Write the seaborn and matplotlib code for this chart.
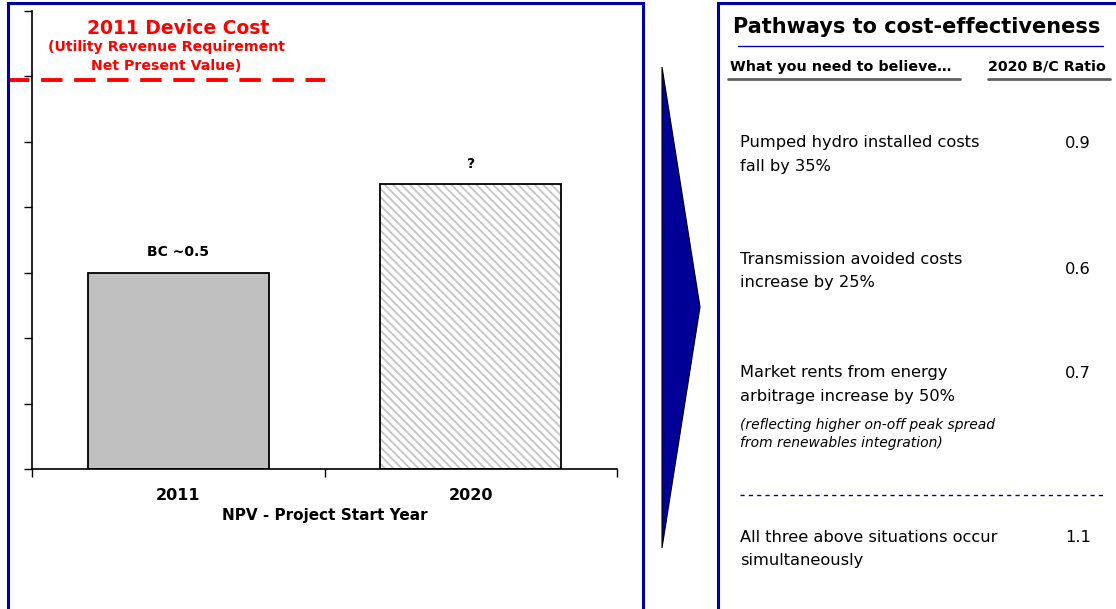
import matplotlib
matplotlib.use("Agg")
import matplotlib.pyplot as plt
from matplotlib.patches import Rectangle, Polygon
from matplotlib.lines import Line2D
import seaborn as sns

# ---------------- data ----------------
categories = ["2011", "2020"]
values = [3.0, 4.35]
bar_labels = ["BC ~0.5", "?"]
device_cost = 5.95
y_ticks = [0, 1, 2, 3, 4, 5, 6, 7]
xlabel = "NPV - Project Start Year"
cost_label = ["2011 Device Cost", "(Utility Revenue Requirement", "Net Present Value)"]

panel_title = "Pathways to cost-effectiveness"
col_headers = ["What you need to believe…", "2020 B/C Ratio"]
pathways = [
    "Pumped hydro installed costs\nfall by 35%",
    "Transmission avoided costs\nincrease by 25%",
    "Market rents from energy\narbitrage increase by 50%",
    "All three above situations occur\nsimultaneously",
]
ratios = ["0.9", "0.6", "0.7", "1.1"]
pathway_note = "(reflecting higher on-off peak spread\nfrom renewables integration)"

# ---------------- style ----------------
sns.set_theme(style="white")
plt.rcParams["font.family"] = ["DejaVu Sans"]
plt.rcParams["hatch.linewidth"] = 1.3
plt.rcParams["text.color"] = "black"
plt.rcParams["xtick.color"] = "black"
plt.rcParams["ytick.color"] = "black"
plt.rcParams["axes.labelcolor"] = "black"

W, H = 1116, 609
fig = plt.figure(figsize=(W / 100, H / 100), dpi=100)

def fx(px):
    return px / W

def fy(py):
    return 1 - py / H

BLUE = "#0000A8"

ax = fig.add_axes([fx(32), fy(469), fx(617) - fx(32), fy(11) - fy(469)])
sns.barplot(x=categories, y=values, ax=ax, width=0.62,
            palette=["#C0C0C0", "white"], hue=categories, legend=False,
            edgecolor="black", linewidth=1.3, saturation=1)

hp = ax.patches[1]
hp.set_facecolor("white")
hp.set_edgecolor("#C4C4C4")
hp.set_hatch("\\\\\\\\")
hp.set_linewidth(0)
ax.add_patch(Rectangle((hp.get_x(), hp.get_y()), hp.get_width(), hp.get_height(),
                       fill=False, edgecolor="black", linewidth=1.3, zorder=3))

ax.set_xlim(-0.5, 1.5)
ax.set_ylim(0, 7)
ax.set_yticks(y_ticks)
ax.set_yticklabels([])
ax.set_xticks([0, 1])
ax.set_xticklabels(categories, fontsize=11.5, fontweight="bold", color="black")
ax.set_xticks([-0.5, 0.5, 1.5], minor=True)
ax.tick_params(axis="x", which="major", length=0, pad=14)
ax.tick_params(axis="x", which="minor", length=6, width=1, direction="out", color="black", bottom=True)
ax.tick_params(axis="y", length=6, width=1, direction="out", color="black", left=True)
ax.set_xlabel(xlabel, fontsize=11, fontweight="bold", labelpad=3, color="black")
ax.set_ylabel("")
for s in ["top", "right"]:
    ax.spines[s].set_visible(False)
for s in ["left", "bottom"]:
    ax.spines[s].set_color("black")
    ax.spines[s].set_linewidth(1.2)

for i, (v, lab) in enumerate(zip(values, bar_labels)):
    ax.text(i, v + 0.21, lab, ha="center", va="bottom", fontsize=10, fontweight="bold", color="black")

# device cost dashed line
ax.plot([-0.582, 0.5], [device_cost, device_cost], color="#FF0000", lw=2.8,
        ls=(0, (5.5, 3)), clip_on=False, solid_capstyle="butt", dash_capstyle="butt")
fig.text(fx(178), fy(28), cost_label[0], ha="center", va="center", color="#FF0000",
         fontsize=13.5, fontweight="bold")
fig.text(fx(166), fy(47), cost_label[1], ha="center", va="center", color="#FF0000",
         fontsize=10.2, fontweight="bold")
fig.text(fx(166), fy(66), cost_label[2], ha="center", va="center", color="#FF0000",
         fontsize=10.2, fontweight="bold")

# panels
fig.add_artist(Rectangle((fx(8), fy(640)), fx(643) - fx(8), fy(3) - fy(640),
                         transform=fig.transFigure, fill=False, edgecolor=BLUE, lw=2.2))
fig.add_artist(Rectangle((fx(718), fy(640)), fx(1130) - fx(718), fy(3) - fy(640),
                         transform=fig.transFigure, fill=False, edgecolor=BLUE, lw=2.2))

# arrow
fig.add_artist(Polygon([(fx(662), fy(67)), (fx(700), fy(307)), (fx(662), fy(548))],
                       closed=True, transform=fig.transFigure, facecolor="#000096",
                       edgecolor="black", lw=0.8))

# right panel text
fig.text(fx(733), fy(27), panel_title, ha="left", va="center", fontsize=15,
         fontweight="bold", color="black")
fig.add_artist(Line2D([fx(738), fx(1103)], [fy(46), fy(46)], transform=fig.transFigure,
                      color=BLUE, lw=1))
fig.text(fx(730), fy(67), col_headers[0], ha="left", va="center", fontsize=10.3,
         fontweight="bold", color="black")
fig.text(fx(988), fy(67), col_headers[1], ha="left", va="center", fontsize=10.3,
         fontweight="bold", color="black")
fig.add_artist(Line2D([fx(728), fx(960)], [fy(79), fy(79)], transform=fig.transFigure,
                      color="#606060", lw=2))
fig.add_artist(Line2D([fx(988), fx(1110)], [fy(79), fy(79)], transform=fig.transFigure,
                      color="#606060", lw=2))

item_y = [143, 260, 373, 537]
ratio_y = [143, 270, 373, 537]
for txt, r, iy, ry in zip(pathways, ratios, item_y, ratio_y):
    fig.text(fx(740), fy(iy), txt.split("\n")[0], ha="left", va="center", fontsize=11.7,
             color="black")
    fig.text(fx(740), fy(iy + 23), txt.split("\n")[1], ha="left", va="center", fontsize=11.7,
             color="black")
    fig.text(fx(1078), fy(ry), r, ha="center", va="center", fontsize=11.7, color="black")
note_lines = pathway_note.split("\n")
fig.text(fx(740), fy(425), note_lines[0], ha="left", va="center", fontsize=10,
         style="italic", color="black")
fig.text(fx(740), fy(443), note_lines[1], ha="left", va="center", fontsize=10,
         style="italic", color="black")
fig.add_artist(Line2D([fx(740), fx(1105)], [fy(495), fy(495)], transform=fig.transFigure,
                      color=BLUE, lw=1, ls=(0, (3, 3))))

fig.savefig("out.png", dpi=100)
